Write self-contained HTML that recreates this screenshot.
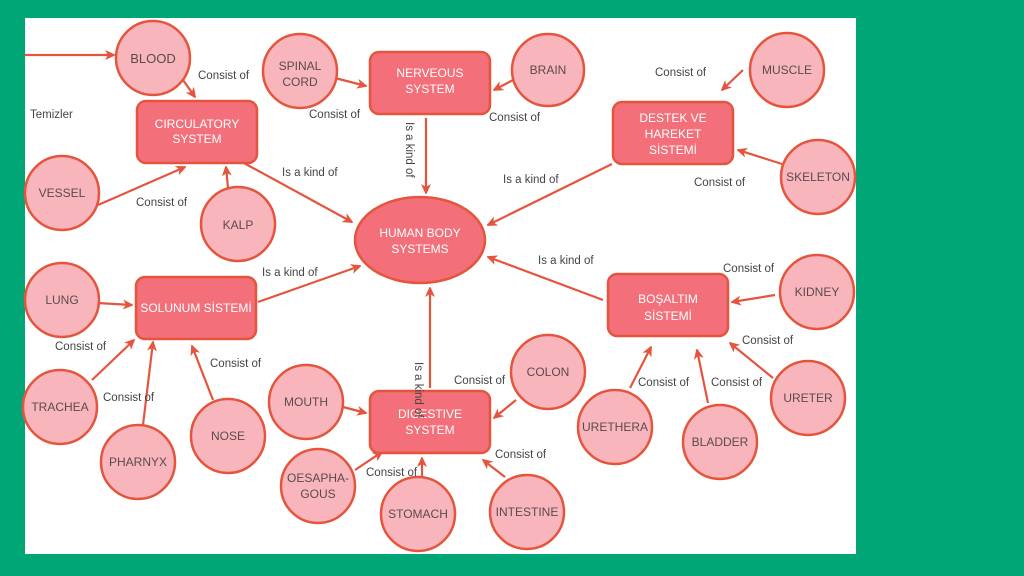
<!DOCTYPE html>
<html><head><meta charset="utf-8"><style>
html,body{margin:0;padding:0;background:#00A676;width:1024px;height:576px;overflow:hidden}
svg{display:block}
text{font-family:"Liberation Sans",sans-serif}
.c{fill:#F8B6BC;stroke:#E5553D;stroke-width:2.5}
.b{fill:#F3707A;stroke:#E5553D;stroke-width:2.5}
.ct{fill:#5a4a4c;font-size:12px;text-anchor:middle}
.bt{fill:#fff;font-size:12px;text-anchor:middle}
.l{fill:#444;font-size:11.5px}
.a{stroke:#E5553D;stroke-width:2.2;fill:none;marker-end:url(#ar)}
</style></head><body>
<svg width="1024" height="576" viewBox="0 0 1024 576">
<defs><marker id="ar" markerWidth="10" markerHeight="10" refX="9" refY="5" orient="auto" markerUnits="userSpaceOnUse"><path d="M0,0 L11,5 L0,10 L3,5 z" fill="#E5553D"/></marker></defs>
<rect x="25" y="18" width="831" height="536" fill="#fff"/>
<!-- arrows -->
<path class="a" d="M25,55 L114,55"/>
<path class="a" d="M183,80 L195,97"/>
<path class="a" d="M98,205 L185,167"/>
<path class="a" d="M228,188 L226,167"/>
<path class="a" d="M242,162 L352,222"/>
<path class="a" d="M335,78 L366,86"/>
<path class="a" d="M513,80 L494,90"/>
<path class="a" d="M426,118 L426,193"/>
<path class="a" d="M743,70 L722,90"/>
<path class="a" d="M782,164 L738,150"/>
<path class="a" d="M612,164 L488,225"/>
<path class="a" d="M97,303 L132,305"/>
<path class="a" d="M92,380 L134,340"/>
<path class="a" d="M143,425 L153,342"/>
<path class="a" d="M213,400 L192,346"/>
<path class="a" d="M258,302 L360,266"/>
<path class="a" d="M603,300 L488,257"/>
<path class="a" d="M430,388 L430,288"/>
<path class="a" d="M775,295 L732,302"/>
<path class="a" d="M773,378 L730,343"/>
<path class="a" d="M630,388 L651,347"/>
<path class="a" d="M708,403 L697,350"/>
<path class="a" d="M343,407 L366,413"/>
<path class="a" d="M516,400 L494,418"/>
<path class="a" d="M355,470 L382,452"/>
<path class="a" d="M422,478 L422,458"/>
<path class="a" d="M505,477 L483,460"/>
<!-- circles -->
<circle class="c" cx="153" cy="58" r="37"/><text class="ct" x="153" y="63" style="font-size:13px">BLOOD</text>
<circle class="c" cx="300" cy="71" r="37"/><text class="ct" x="300" y="70">SPINAL</text><text class="ct" x="300" y="86">CORD</text>
<circle class="c" cx="548" cy="70" r="36"/><text class="ct" x="548" y="74">BRAIN</text>
<circle class="c" cx="787" cy="70" r="37"/><text class="ct" x="787" y="74">MUSCLE</text>
<circle class="c" cx="818" cy="177" r="37"/><text class="ct" x="818" y="181">SKELETON</text>
<circle class="c" cx="62" cy="193" r="37"/><text class="ct" x="62" y="197">VESSEL</text>
<circle class="c" cx="238" cy="224" r="37"/><text class="ct" x="238" y="229">KALP</text>
<circle class="c" cx="62" cy="300" r="37"/><text class="ct" x="62" y="304">LUNG</text>
<circle class="c" cx="60" cy="407" r="37"/><text class="ct" x="60" y="411">TRACHEA</text>
<circle class="c" cx="138" cy="462" r="37"/><text class="ct" x="138" y="466">PHARNYX</text>
<circle class="c" cx="228" cy="436" r="37"/><text class="ct" x="228" y="440">NOSE</text>
<circle class="c" cx="306" cy="402" r="37"/><text class="ct" x="306" y="406">MOUTH</text>
<circle class="c" cx="548" cy="372" r="37"/><text class="ct" x="548" y="376">COLON</text>
<circle class="c" cx="817" cy="292" r="37"/><text class="ct" x="817" y="296">KIDNEY</text>
<circle class="c" cx="808" cy="398" r="37"/><text class="ct" x="808" y="402">URETER</text>
<circle class="c" cx="615" cy="427" r="37"/><text class="ct" x="615" y="431">URETHERA</text>
<circle class="c" cx="720" cy="442" r="37"/><text class="ct" x="720" y="446">BLADDER</text>
<circle class="c" cx="318" cy="486" r="37"/><text class="ct" x="318" y="482">OESAPHA-</text><text class="ct" x="318" y="498">GOUS</text>
<circle class="c" cx="418" cy="514" r="37"/><text class="ct" x="418" y="518">STOMACH</text>
<circle class="c" cx="527" cy="512" r="37"/><text class="ct" x="527" y="516">INTESTINE</text>
<!-- boxes -->
<rect class="b" x="137" y="101" width="120" height="62" rx="9"/><text class="bt" x="197" y="128">CIRCULATORY</text><text class="bt" x="197" y="143">SYSTEM</text>
<rect class="b" x="370" y="52" width="120" height="62" rx="9"/><text class="bt" x="430" y="77">NERVEOUS</text><text class="bt" x="430" y="93">SYSTEM</text>
<rect class="b" x="613" y="102" width="120" height="62" rx="9"/><text class="bt" x="673" y="122">DESTEK VE</text><text class="bt" x="673" y="138">HAREKET</text><text class="bt" x="673" y="154">SİSTEMİ</text>
<rect class="b" x="136" y="277" width="120" height="62" rx="9"/><text class="bt" x="196" y="312">SOLUNUM SİSTEMİ</text>
<rect class="b" x="608" y="274" width="120" height="62" rx="9"/><text class="bt" x="668" y="303">BOŞALTIM</text><text class="bt" x="668" y="320">SİSTEMİ</text>
<rect class="b" x="370" y="391" width="120" height="62" rx="9"/><text class="bt" x="430" y="418">DIGESTIVE</text><text class="bt" x="430" y="434">SYSTEM</text>
<ellipse class="b" cx="420" cy="240" rx="65" ry="43"/><text class="bt" x="420" y="237">HUMAN BODY</text><text class="bt" x="420" y="253">SYSTEMS</text>
<!-- labels -->
<text class="l" x="30" y="118">Temizler</text>
<text class="l" x="198" y="79">Consist of</text>
<text class="l" x="136" y="206">Consist of</text>
<text class="l" x="282" y="176">Is a kind of</text>
<text class="l" x="309" y="118">Consist of</text>
<text class="l" x="489" y="121">Consist of</text>
<text class="l" x="406" y="122" transform="rotate(90 406 122)">Is a kind of</text>
<text class="l" x="655" y="76">Consist of</text>
<text class="l" x="694" y="186">Consist of</text>
<text class="l" x="503" y="183">Is a kind of</text>
<text class="l" x="262" y="276">Is a kind of</text>
<text class="l" x="538" y="264">Is a kind of</text>
<text class="l" x="55" y="350">Consist of</text>
<text class="l" x="103" y="401">Consist of</text>
<text class="l" x="210" y="367">Consist of</text>
<text class="l" x="723" y="272">Consist of</text>
<text class="l" x="742" y="344">Consist of</text>
<text class="l" x="638" y="386">Consist of</text>
<text class="l" x="711" y="386">Consist of</text>
<text class="l" x="454" y="384">Consist of</text>
<text class="l" x="415" y="362" transform="rotate(90 415 362)">Is a kind of</text>
<text class="l" x="495" y="458">Consist of</text>
<text class="l" x="366" y="476">Consist of</text>
</svg>
</body></html>
